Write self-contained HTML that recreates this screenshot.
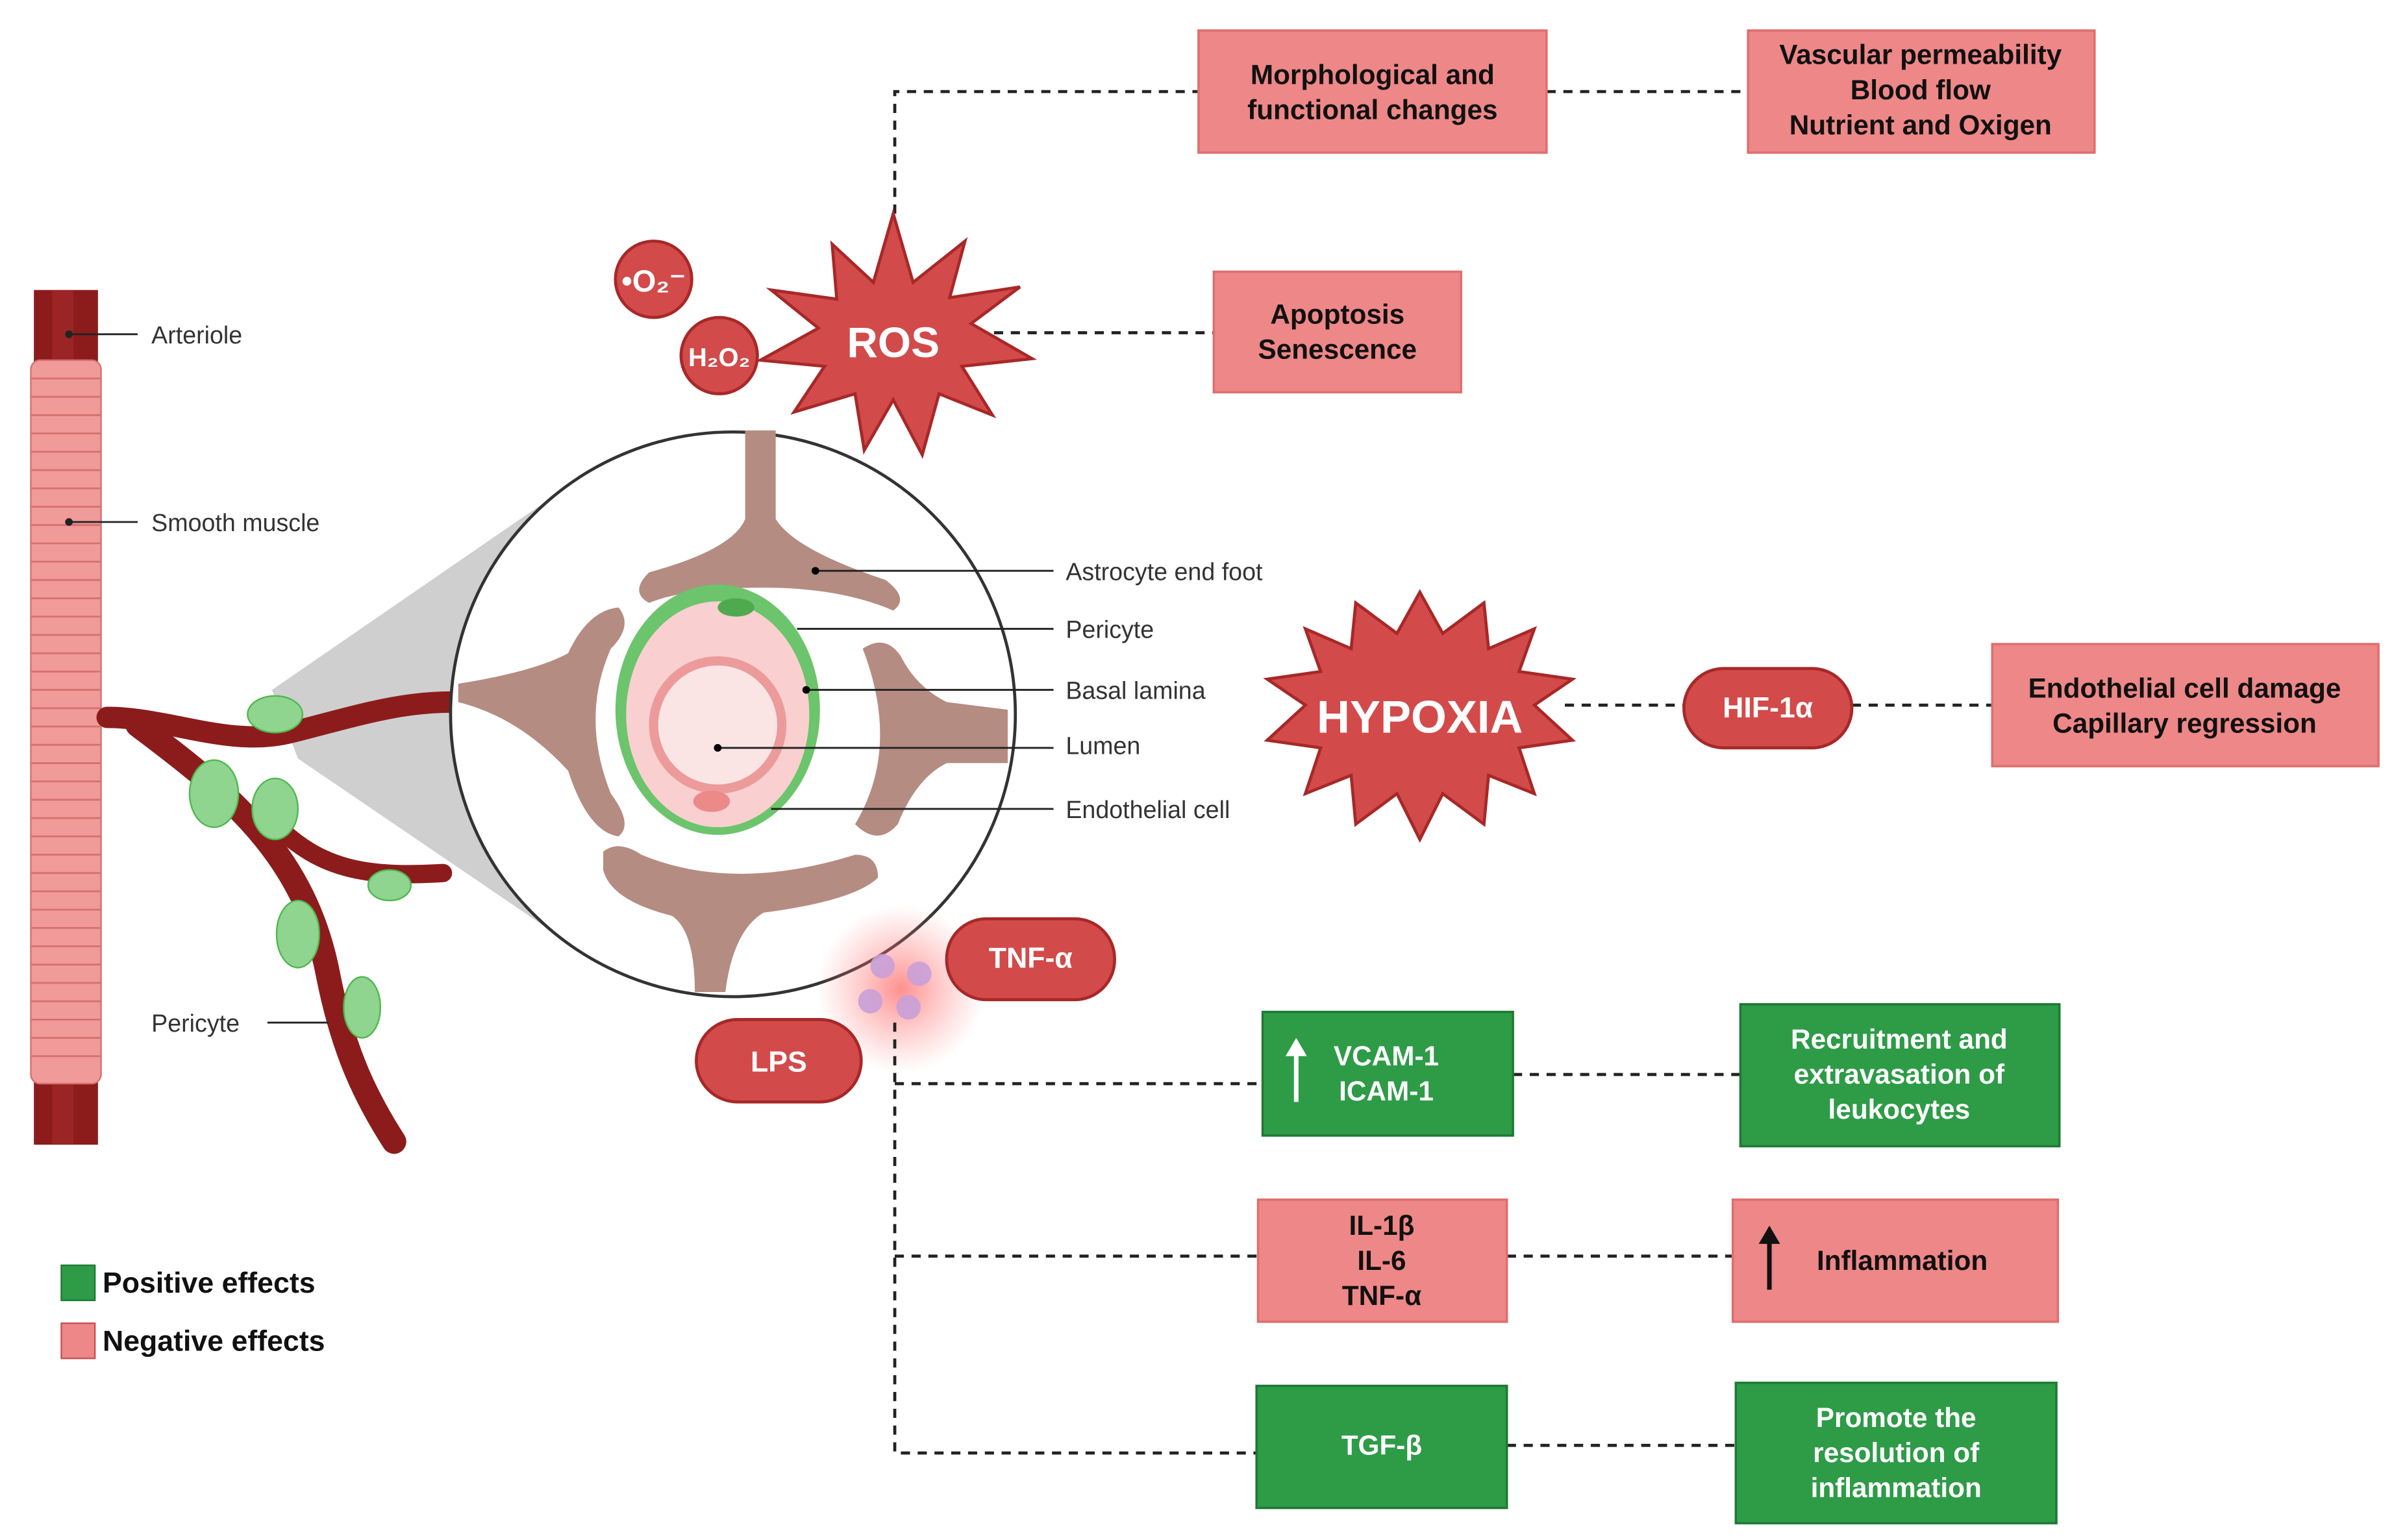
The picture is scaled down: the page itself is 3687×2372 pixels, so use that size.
<!DOCTYPE html>
<html><head><meta charset="utf-8"><style>
html,body{margin:0;padding:0;background:#fff}
svg{display:block}
text{font-family:"Liberation Sans",Arial,sans-serif}
.b{font-weight:bold}
</style></head><body>
<svg width="3687" height="2372" viewBox="0 0 1568 1009" xmlns="http://www.w3.org/2000/svg">
<defs>
<radialGradient id="glow"><stop offset="0" stop-color="#ff6060" stop-opacity="0.7"/><stop offset="1" stop-color="#ff8080" stop-opacity="0"/></radialGradient>
</defs>
<rect width="1568" height="1009" fill="#fff"/>
<!-- gray cone -->
<polygon points="178,452 195,497 364,612 364,324" fill="#cfcfcf"/>
<!-- arteriole -->
<rect x="22" y="190" width="42" height="560" fill="#8c1c1c"/>
<rect x="34" y="190" width="14" height="560" fill="#a52a2a" opacity="0.6"/>
<rect x="20" y="236" width="46" height="474" rx="6" fill="#f09a9a" stroke="#d77070" stroke-width="1"/>
<g stroke="#d77070" stroke-width="1.2">
<path d="M20 248H66M20 260H66M20 272H66M20 284H66M20 296H66M20 308H66M20 320H66M20 332H66M20 344H66M20 356H66M20 368H66M20 380H66M20 392H66M20 404H66M20 416H66M20 428H66M20 440H66M20 452H66M20 464H66M20 476H66M20 488H66M20 500H66M20 512H66M20 524H66M20 536H66M20 548H66M20 560H66M20 572H66M20 584H66M20 596H66M20 608H66M20 620H66M20 632H66M20 644H66M20 656H66M20 668H66M20 680H66M20 692H66"/>
</g>
<!-- branches -->
<g fill="none" stroke="#8c1c1c" stroke-linecap="round">
<path d="M70 470 C110 470 150 490 190 480 C230 470 260 460 295 460" stroke-width="14"/>
<path d="M90 475 C150 520 200 560 215 640 C225 690 240 720 258 748" stroke-width="16"/>
<path d="M180 540 C210 570 240 575 290 572" stroke-width="12"/>
</g>
<g fill="#8fd48f" stroke="#4db84d" stroke-width="1">
<ellipse cx="180" cy="468" rx="18" ry="12"/>
<ellipse cx="140" cy="520" rx="16" ry="22"/>
<ellipse cx="180" cy="530" rx="15" ry="20"/>
<ellipse cx="195" cy="612" rx="14" ry="22"/>
<ellipse cx="237" cy="660" rx="12" ry="20"/>
<ellipse cx="255" cy="580" rx="14" ry="10"/>
</g>
<!-- labels left -->
<g stroke="#222" stroke-width="1.2"><line x1="45" y1="219" x2="90" y2="219"/><line x1="45" y1="342" x2="90" y2="342"/><line x1="175" y1="670" x2="215" y2="670"/></g>
<circle cx="45" cy="219" r="2.5" fill="#222"/><circle cx="45" cy="342" r="2.5" fill="#222"/>
<g font-size="16" fill="#333"><text x="99" y="225">Arteriole</text><text x="99" y="348">Smooth muscle</text><text x="99" y="676">Pericyte</text></g>
<!-- circle -->
<circle cx="480" cy="468" r="185" fill="#fff" stroke="#333" stroke-width="2"/>
<g fill="#b58c82">
<path d="M488 282 L508 282 L508 340 Q520 360 580 380 Q596 392 585 400 Q550 385 500 385 Q450 385 425 395 Q412 388 425 375 Q480 360 488 340 Z"/>
<path d="M300 448 Q350 440 372 428 Q385 400 405 398 Q415 410 400 425 Q380 470 400 520 Q415 540 405 548 Q385 545 372 505 Q340 470 300 460 Z"/>
<path d="M565 425 Q580 415 590 430 Q600 450 620 460 L660 465 L660 500 L620 500 Q600 510 588 540 Q575 555 560 540 Q590 490 565 425 Z"/>
<path d="M395 558 Q405 550 420 560 Q480 585 560 560 Q575 560 575 575 Q560 590 500 598 Q480 610 475 650 L455 650 Q455 610 440 600 Q400 590 395 570 Z"/>
</g>
<ellipse cx="470" cy="465" rx="67" ry="82" fill="#6cc46c"/>
<ellipse cx="470" cy="468" rx="60" ry="74" fill="#f9cfcf"/>
<ellipse cx="482" cy="398" rx="12" ry="6" fill="#4faa4f"/>
<circle cx="470" cy="475" r="42" fill="#fbe4e4" stroke="#ec9a9a" stroke-width="6"/>
<ellipse cx="466" cy="525" rx="12" ry="7" fill="#ec8a8a"/>
<g stroke="#222" stroke-width="1.2">
<line x1="534" y1="374" x2="690" y2="374"/><line x1="522" y1="412" x2="690" y2="412"/><line x1="528" y1="452" x2="690" y2="452"/><line x1="470" y1="490" x2="690" y2="490"/><line x1="505" y1="530" x2="690" y2="530"/>
</g>
<circle cx="534" cy="374" r="2.5"/><circle cx="528" cy="452" r="2.5"/><circle cx="470" cy="490" r="2.5"/>
<g font-size="16" fill="#333"><text x="698" y="380">Astrocyte end foot</text><text x="698" y="418">Pericyte</text><text x="698" y="458">Basal lamina</text><text x="698" y="494">Lumen</text><text x="698" y="536">Endothelial cell</text></g>
<!-- glow + cells -->
<circle cx="590" cy="648" r="55" fill="url(#glow)"/>
<g fill="#c9a0d8" opacity="0.9"><circle cx="578" cy="633" r="8"/><circle cx="602" cy="638" r="8"/><circle cx="570" cy="656" r="8"/><circle cx="595" cy="660" r="8"/></g>
<!-- dashed connectors -->
<g stroke="#222" stroke-width="2" stroke-dasharray="6,5" fill="none">
<path d="M586 140 V60 H785"/><path d="M1013 60 H1145"/>
<path d="M640 218 H795"/>
<path d="M1025 462 H1103"/><path d="M1213 462 H1305"/>
<path d="M586 670 V952 H823"/><path d="M586 710 H827"/><path d="M586 823 H824"/>
<path d="M991 704 H1140"/><path d="M987 823 H1135"/><path d="M987 947 H1137"/>
</g>
<!-- ROS -->
<polygon points="585,140 598,185 632,158 622,195 668,188 636,212 676,235 630,240 650,272 615,258 604,298 585,262 566,295 560,258 520,270 540,240 498,236 536,215 505,190 548,196 545,160 572,185" fill="#d24a4a" stroke="#a82828" stroke-width="2"/>
<text x="585" y="234" font-size="28" fill="#fff" class="b" text-anchor="middle">ROS</text>
<circle cx="428" cy="183" r="25" fill="#d24a4a" stroke="#a82828" stroke-width="2"/>
<text x="428" y="191" font-size="20" fill="#fff" class="b" text-anchor="middle">•O₂⁻</text>
<circle cx="471" cy="233" r="25" fill="#d24a4a" stroke="#a82828" stroke-width="2"/>
<text x="471" y="240" font-size="17" fill="#fff" class="b" text-anchor="middle">H₂O₂</text>
<!-- HYPOXIA -->
<polygon points="930,388 945,415 972,395 975,425 1005,412 995,440 1030,445 1005,462 1030,485 995,490 1005,520 975,508 972,540 945,520 930,550 915,520 888,540 885,508 855,520 865,490 830,485 855,462 830,445 865,440 855,412 885,425 888,395 915,415" fill="#d24a4a" stroke="#a82828" stroke-width="2"/>
<text x="930" y="480" font-size="30" fill="#fff" class="b" text-anchor="middle">HYPOXIA</text>
<!-- pills -->
<g fill="#d24a4a" stroke="#a82828" stroke-width="2">
<rect x="1103" y="438" width="110" height="52" rx="26"/>
<rect x="620" y="602" width="110" height="53" rx="26"/>
<rect x="456" y="668" width="108" height="54" rx="27"/>
</g>
<g font-size="19" fill="#fff" class="b" text-anchor="middle"><text x="1158" y="470">HIF-1α</text><text x="675" y="634">TNF-α</text><text x="510" y="702">LPS</text></g>
<!-- pink boxes -->
<g fill="#ee8787" stroke="#e06e6e" stroke-width="1.5">
<rect x="785" y="20" width="228" height="80"/><rect x="1145" y="20" width="227" height="80"/>
<rect x="795" y="178" width="162" height="79"/><rect x="1305" y="422" width="253" height="80"/>
<rect x="824" y="786" width="163" height="80"/><rect x="1135" y="786" width="213" height="80"/>
</g>
<g fill="#2e9b47" stroke="#1d7a33" stroke-width="1.5">
<rect x="827" y="663" width="164" height="81"/><rect x="1140" y="658" width="209" height="93"/>
<rect x="823" y="908" width="164" height="80"/><rect x="1137" y="906" width="210" height="92"/>
</g>
<g font-size="18" class="b" text-anchor="middle" fill="#111">
<text x="899" y="55">Morphological and</text><text x="899" y="78">functional changes</text>
<text x="1258" y="42">Vascular permeability</text><text x="1258" y="65">Blood flow</text><text x="1258" y="88">Nutrient and Oxigen</text>
<text x="876" y="212">Apoptosis</text><text x="876" y="235">Senescence</text>
<text x="1431" y="457">Endothelial cell damage</text><text x="1431" y="480">Capillary regression</text>
<text x="905" y="809">IL-1β</text><text x="905" y="832">IL-6</text><text x="905" y="855">TNF-α</text>
<text x="1246" y="832">Inflammation</text>
</g>
<g font-size="18" class="b" text-anchor="middle" fill="#fff">
<text x="908" y="698">VCAM-1</text><text x="908" y="721">ICAM-1</text>
<text x="1244" y="687">Recruitment and</text><text x="1244" y="710">extravasation of</text><text x="1244" y="733">leukocytes</text>
<text x="905" y="953">TGF-β</text>
<text x="1242" y="935">Promote the</text><text x="1242" y="958">resolution of</text><text x="1242" y="981">inflammation</text>
</g>
<!-- arrows -->
<g stroke="#fff" stroke-width="3" fill="#fff"><line x1="849" y1="722" x2="849" y2="688"/><polygon points="842,692 849,680 856,692" stroke="none"/></g>
<g stroke="#111" stroke-width="3" fill="#111"><line x1="1159" y1="845" x2="1159" y2="811"/><polygon points="1152,815 1159,803 1166,815" stroke="none"/></g>
<!-- legend -->
<rect x="40" y="829" width="22" height="23" fill="#2e9b47" stroke="#1d7a33"/>
<rect x="40" y="867" width="22" height="23" fill="#ee8787" stroke="#c85050"/>
<g font-size="19" class="b" fill="#111"><text x="67" y="847">Positive effects</text><text x="67" y="885">Negative effects</text></g>
</svg>
</body></html>
